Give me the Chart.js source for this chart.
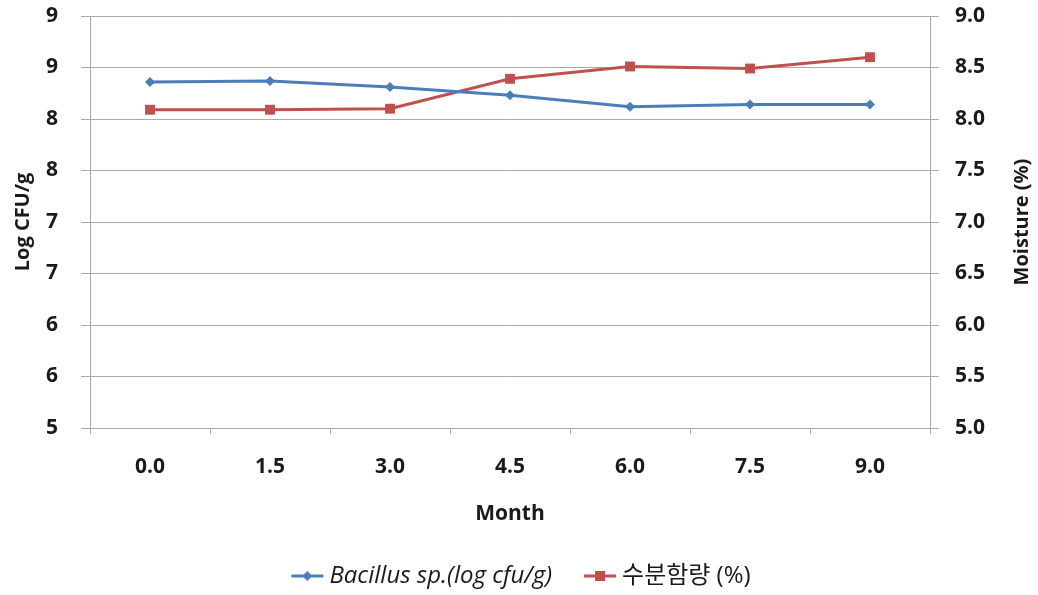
<!DOCTYPE html>
<html>
<head>
<meta charset="utf-8">
<script src="https://cdn.jsdelivr.net/npm/chart.js@4.4.0/dist/chart.umd.min.js"></script>
<style>
  html, body { margin: 0; padding: 0; background: #ffffff; }
  #wrap { width: 1038px; height: 595px; }
</style>
</head>
<body>
<div id="wrap"><canvas id="chart" width="1038" height="595"></canvas></div>
<script>
// Storage period (months)
const months = ['0.0', '1.5', '3.0', '4.5', '6.0', '7.5', '9.0'];
// Viable count, log CFU/g
const bacillus = [8.36, 8.37, 8.31, 8.23, 8.12, 8.14, 8.14];
// Moisture content, %
const moisture = [8.09, 8.09, 8.10, 8.39, 8.51, 8.49, 8.60];

// Axis tick values and their printed labels
const tickValues = [5.0, 5.5, 6.0, 6.5, 7.0, 7.5, 8.0, 8.5, 9.0];
const leftTickLabels = ['5', '6', '6', '7', '7', '8', '8', '9', '9'];
const rightTickLabels = ['5.0', '5.5', '6.0', '6.5', '7.0', '7.5', '8.0', '8.5', '9.0'];

const seriesNames = ['Bacillus sp.(log cfu/g)', '수분함량 (%)'];
const rightTitle = 'Moisture (%)';
const blue = '#4a7ebb';
const red = '#c0504d';
const gridColor = '#a9a9a9';
const textColor = '#1a1a1a';
const FONT = "'Open Sans', 'Noto Sans CJK KR', sans-serif";
const TICK_FONT = { family: FONT, size: 21, weight: 'bold', lineHeight: 1.0 };

// Bottom legend: line + marker swatches, first label italic
const bottomLegend = {
  id: 'bottomLegend',
  afterDraw(chart) {
    const ctx = chart.ctx;
    const y = 576;
    const items = [
      { text: seriesNames[0], color: blue, shape: 'diamond', font: 'italic 400 24px ' + FONT },
      { text: seriesNames[1], color: red, shape: 'square', font: '400 24px ' + FONT }
    ];
    const swatch = 32, gapText = 6, gapItems = 32;
    let total = 0;
    items.forEach(it => { ctx.font = it.font; it.w = ctx.measureText(it.text).width; total += swatch + gapText + it.w; });
    total += gapItems * (items.length - 1);
    let x = 521 - total / 2;
    ctx.save();
    items.forEach(it => {
      ctx.strokeStyle = it.color;
      ctx.fillStyle = it.color;
      ctx.lineWidth = 3;
      ctx.beginPath();
      ctx.moveTo(x, y);
      ctx.lineTo(x + swatch, y);
      ctx.stroke();
      const cx = x + swatch / 2;
      if (it.shape === 'diamond') {
        ctx.beginPath();
        ctx.moveTo(cx, y - 5); ctx.lineTo(cx + 5, y); ctx.lineTo(cx, y + 5); ctx.lineTo(cx - 5, y);
        ctx.closePath(); ctx.fill();
      } else {
        ctx.fillRect(cx - 5, y - 5, 10, 10);
      }
      x += swatch + gapText;
      ctx.font = it.font;
      ctx.fillStyle = textColor;
      ctx.textBaseline = 'middle';
      ctx.textAlign = 'left';
      ctx.fillText(it.text, x, y);
      x += it.w + gapItems;
    });
    ctx.restore();
  }
};

// Right-hand axis title, reading bottom-to-top like the left one
const rightAxisTitle = {
  id: 'rightAxisTitle',
  afterDraw(chart) {
    const ctx = chart.ctx;
    const area = chart.chartArea;
    ctx.save();
    ctx.translate(1022, (area.top + area.bottom) / 2);
    ctx.rotate(-Math.PI / 2);
    ctx.font = 'bold 20px ' + FONT;
    ctx.fillStyle = textColor;
    ctx.textAlign = 'center';
    ctx.textBaseline = 'middle';
    ctx.fillText(rightTitle, 0, 0);
    ctx.restore();
  }
};

const fixedTicks = scale => { scale.ticks = tickValues.map(v => ({ value: v })); };
const noEdgePadding = scale => {
  scale.paddingTop = 0; scale.paddingBottom = 0;
  scale.paddingLeft = 0; scale.paddingRight = 0;
};

new Chart(document.getElementById('chart'), {
  type: 'line',
  data: {
    labels: months,
    datasets: [
      {
        label: seriesNames[0],
        data: bacillus,
        yAxisID: 'y',
        borderColor: blue,
        backgroundColor: blue,
        borderWidth: 3,
        pointStyle: 'rectRot',
        pointRadius: 5,
        pointBorderWidth: 0,
        tension: 0
      },
      {
        label: seriesNames[1],
        data: moisture,
        yAxisID: 'y1',
        borderColor: red,
        backgroundColor: red,
        borderWidth: 3,
        pointStyle: 'rect',
        pointRadius: 7,
        pointBorderWidth: 0,
        tension: 0
      }
    ]
  },
  options: {
    responsive: false,
    animation: false,
    layout: { padding: { left: 0, right: 0, top: 16, bottom: 50 } },
    plugins: {
      legend: { display: false },
      tooltip: { enabled: false }
    },
    scales: {
      x: {
        offset: true,
        grid: { offset: true, drawOnChartArea: false, color: gridColor, tickLength: 6 },
        border: { color: gridColor, width: 1 },
        ticks: { color: textColor, padding: 23, font: TICK_FONT, maxRotation: 0 },
        title: { display: true, text: 'Month', color: textColor, font: { family: FONT, size: 21, weight: 'bold' }, padding: { top: 0, bottom: 18 } },
        afterFit(scale) { scale.height = 117; noEdgePadding(scale); }
      },
      y: {
        position: 'left',
        min: 5, max: 9,
        afterBuildTicks: fixedTicks,
        grid: { color: gridColor, tickLength: 9, lineWidth: 1 },
        border: { color: gridColor, width: 1 },
        ticks: {
          color: textColor, padding: 23,
          font: TICK_FONT,
          callback: (v, i) => leftTickLabels[i]
        },
        title: { display: true, text: 'Log CFU/g', color: textColor, font: { family: FONT, size: 20, weight: 'bold' }, padding: { top: 11, bottom: 0 } },
        afterFit(scale) { scale.width = 90; noEdgePadding(scale); }
      },
      y1: {
        position: 'right',
        min: 5, max: 9,
        afterBuildTicks: fixedTicks,
        grid: { drawOnChartArea: false, color: gridColor, tickLength: 9 },
        border: { color: gridColor, width: 1 },
        ticks: {
          color: textColor, padding: 16,
          font: TICK_FONT,
          callback: (v, i) => rightTickLabels[i]
        },
        afterFit(scale) { scale.width = 108; noEdgePadding(scale); }
      }
    }
  },
  plugins: [bottomLegend, rightAxisTitle]
});
</script>
</body>
</html>
